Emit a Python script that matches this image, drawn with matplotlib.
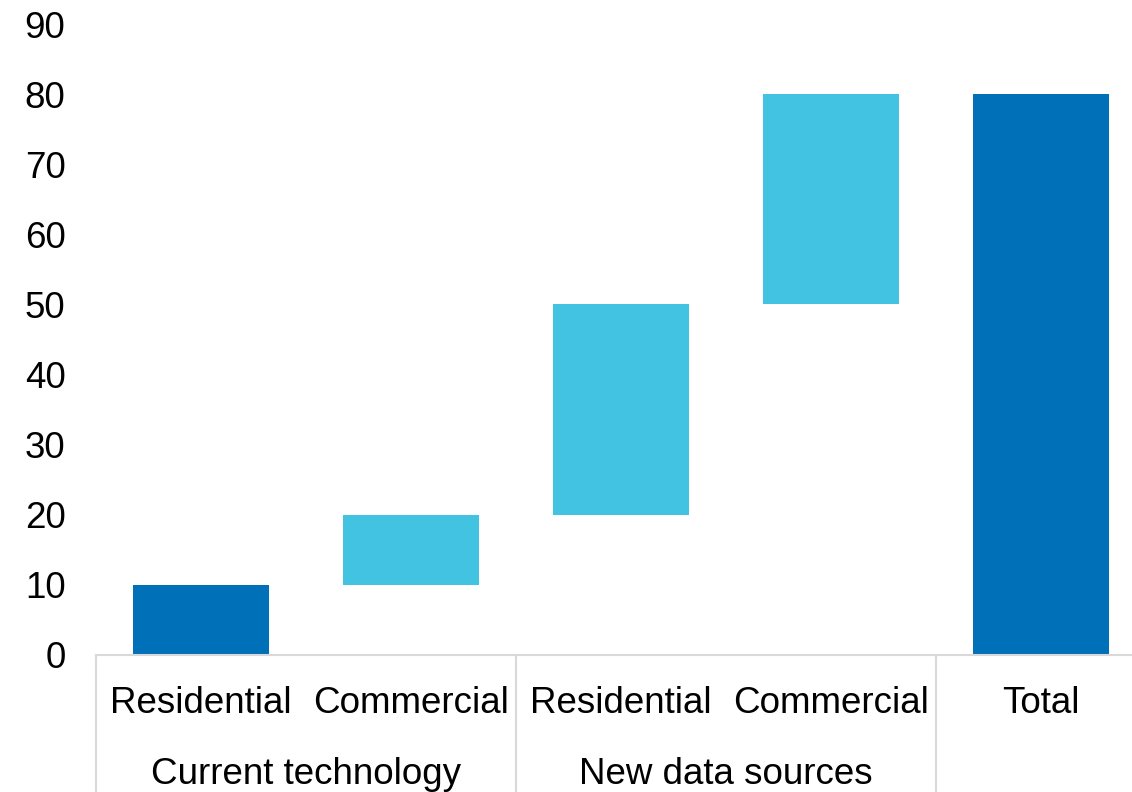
import matplotlib.pyplot as plt
import numpy as np

# data
categories = ["Residential", "Commercial", "Residential", "Commercial", "Total"]
groups = ["Current technology", "New data sources"]
steps = [10, 10, 30, 30]  # increments
total = sum(steps)

dark = "#0070b8"
light = "#43c3e2"

plt.rcParams['font.family'] = ['Liberation Sans', 'DejaVu Sans']

fig = plt.figure(figsize=(11.32, 7.92), dpi=100)
ax = fig.add_axes([96/1132, 137/792, 1050/1132, 631/792])

# waterfall bottoms / heights
bottoms = np.concatenate([[0], np.cumsum(steps)[:-1], [0]])
heights = steps + [total]
colors = [dark, light, light, light, dark]
x = np.arange(len(categories))
ax.bar(x, heights, bottom=bottoms, width=0.65, color=colors)

ax.set_xlim(-0.5, len(categories) - 0.5)
ax.set_ylim(0, 90)
ax.set_yticks(np.arange(0, 91, 10))
ax.tick_params(axis='y', length=0, labelsize=26.5, pad=22)
ax.set_xticks(x)
ax.set_xticklabels(categories)
ax.tick_params(axis='x', length=0, labelsize=26.5, pad=22)

for s in ['top', 'right', 'left']:
    ax.spines[s].set_visible(False)
ax.spines['bottom'].set_color('#d9d9d9')
ax.spines['bottom'].set_linewidth(1.5)

# group separators and labels
tr = ax.get_xaxis_transform()
for sx in [-0.5, 1.5, 3.5]:
    ax.plot([sx, sx], [0, -0.25], transform=tr, color='#d9d9d9', lw=1.5, clip_on=False)
for i, g in enumerate(groups):
    ax.text(2*i + 0.5, -0.19, g, transform=tr, ha='center', va='center', fontsize=26.5)

fig.savefig("out.png", dpi=100)
